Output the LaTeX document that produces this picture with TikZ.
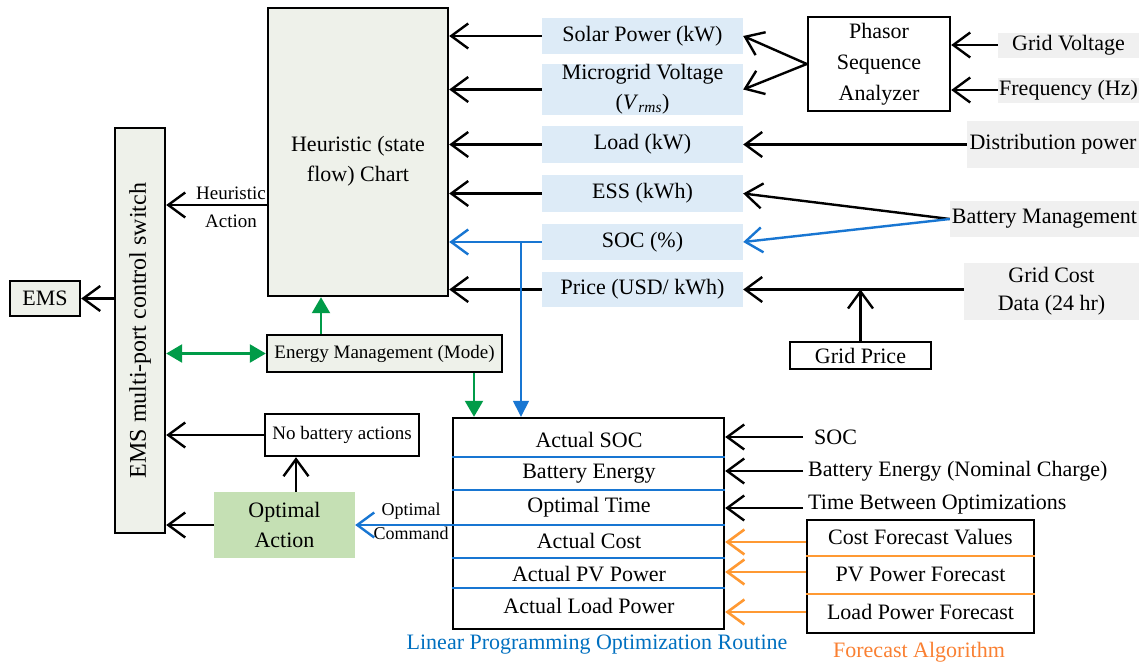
\documentclass[tikz,border=0pt]{standalone}
\usepackage{fontspec}
\setmainfont{Liberation Serif}
\usetikzlibrary{arrows.meta,calc}

\definecolor{panel}{RGB}{238,241,234}
\definecolor{inblue}{RGB}{221,235,247}
\definecolor{srcgrey}{RGB}{240,240,240}
\definecolor{optgreen}{RGB}{197,224,180}
\definecolor{lpblue}{RGB}{24,118,210}
\definecolor{lptext}{RGB}{0,112,192}
\definecolor{flowgreen}{RGB}{0,155,72}
\definecolor{fcorange}{RGB}{255,153,51}
\definecolor{fctext}{RGB}{250,128,50}

\newcommand{\pxfont}[2]{\fontsize{#1}{#2}\selectfont}

\begin{document}
\begin{tikzpicture}[x=1pt,y=-1pt,
  every node/.style={font=\pxfont{22}{30}, inner sep=0pt},
  frame/.style={draw=black, line width=2.4pt, fill=panel},
  blk/.style={draw=black, line width=2.4pt, fill=white},
  inbox/.style={fill=inblue, minimum width=201pt},
  src/.style={fill=srcgrey},
  arr/.style={line width=2.4pt, -{Straight Barb[length=17pt,width=25pt]}},
  arrblue/.style={arr, draw=lpblue},
  arrorange/.style={arr, draw=fcorange, line width=2.6pt},
  garr/.style={draw=flowgreen, line width=2.2pt, -{Triangle[length=16pt,width=18pt]}},
  garrboth/.style={draw=flowgreen, line width=2.6pt, {Triangle[length=16pt,width=18pt]}-{Triangle[length=16pt,width=18pt]}},
  barr/.style={draw=lpblue, line width=1.4pt, -{Triangle[length=16pt,width=16pt]}},
  sepblue/.style={draw=lpblue, line width=2.4pt},
  seporange/.style={draw=fcorange, line width=2.4pt}]

\fill[white] (0,0) rectangle (1142,667);
\useasboundingbox (0,0) rectangle (1142,667);

% main control blocks
\node[frame, minimum width=180pt, minimum height=288pt] (heu) at (358,152) {};
\node[align=center] (heutxt) at (358,161) {Heuristic (state\\flow) Chart};
\node[frame, minimum width=50pt, minimum height=405pt] (sw) at (140,330.5)
  {\rotatebox{90}{\pxfont{24}{28}EMS multi-port control switch}};
\node[frame, minimum width=70pt, minimum height=35pt] (ems) at (45,298.5) {EMS};

% measured inputs
\node[inbox, minimum height=36pt] (solar) at (642.5,36) {Solar Power (kW)};
\node[inbox, minimum height=51pt, align=center] (micro) at (642.5,89.5)
  {Microgrid Voltage\\(\textit{V}\textsubscript{\textit{rms}})};
\node[inbox, minimum height=37pt] (load) at (642.5,144.5) {Load (kW)};
\node[inbox, minimum height=37pt] (ess) at (642.5,193.5) {ESS (kWh)};
\node[inbox, minimum height=36pt] (soc) at (642.5,242) {SOC (\%)};
\node[inbox, minimum height=35pt] (price) at (642.5,289.5) {Price (USD/ kWh)};

% sources
\node[blk, minimum width=142pt, minimum height=94pt, align=center, font=\pxfont{22}{31}] (pha) at (879,64)
  {Phasor\\Sequence\\Analyzer};
\node[src, minimum width=141pt, minimum height=25pt] (gv) at (1068.5,45) {Grid Voltage};
\node[src, minimum width=141pt, minimum height=25pt] (freq) at (1068.5,90) {Frequency (Hz)};
\node[src, minimum width=172pt, minimum height=47pt] (dist) at (1053,144.5) {Distribution power};
\node[src, minimum width=189pt, minimum height=36pt] (bm) at (1044.5,219) {Battery Management};
\node[src, minimum width=175pt, minimum height=57pt, align=center, font=\pxfont{22}{28}] (gcd) at (1051.5,291.5)
  {Grid Cost\\Data (24 hr)};
\node[blk, minimum width=141pt, minimum height=27pt] (gp) at (860.5,355.5) {Grid Price};

% inputs into the heuristic chart
\draw[arr] (solar.west) -- (solar.west -| heu.east);
\draw[arr] (micro.west) -- (micro.west -| heu.east);
\draw[arr] (load.west) -- (load.west -| heu.east);
\draw[arr] (ess.west) -- (ess.west -| heu.east);
\draw[arrblue] (soc.west) -- (soc.west -| heu.east);
\draw[arr] (price.west) -- (price.west -| heu.east);

% sources into the inputs
\draw[arr] (pha.west) -- (solar.east);
\draw[arr] (pha.west) -- (micro.east);
\draw[arr] (gv.west) -- (gv.west -| pha.east);
\draw[arr] (freq.west) -- (freq.west -| pha.east);
\draw[arr] (dist.west) -- (load.east);
\draw[arr] (bm.west) -- (ess.east);
\draw[arrblue] (bm.west) -- (soc.east);
\draw[arr] (gcd.west |- price.east) -- (price.east);
\draw[arr] (gp.north) -- (gp.north |- price.east);

% heuristic action to the switch
\coordinate (ha) at (0,205);
\draw[arr] (heu.west |- ha) -- (sw.east |- ha);
\node[font=\pxfont{19}{28}, align=center] (halbl) at (231,207) {Heuristic\\Action};
\draw[arr] (sw.west |- ems.east) -- (ems.east);

% mode selection
\node[frame, minimum width=235pt, minimum height=37pt, font=\pxfont{19}{24}] (em) at (384.5,353.5)
  {Energy Management (Mode)};
\draw[garrboth] (sw.east |- em.west) -- (em.west);

% optimisation routine
\node[blk, minimum width=271pt, minimum height=211pt] (lp) at (588.5,523.5) {};
\foreach \yy in {457,490,525,558,588}
  \draw[sepblue] (lp.west |- 0,\yy) -- (lp.east |- 0,\yy);
\node (r1) at (589,440) {Actual SOC};
\node (r2) at (589,474) {Battery Energy};
\node (r3) at (589,507) {Optimal Time};
\node (r4) at (589,541) {Actual Cost};
\node (r5) at (589,574) {Actual PV Power};
\node (r6) at (589,606) {Actual Load Power};
\node[text=lptext] (lplbl) at (597,645) {Linear Programming Optimization Routine};

\coordinate (gx1) at (321,0);
\draw[garr] (em.north -| gx1) -- (heu.south -| gx1);
\coordinate (gx2) at (474,0);
\draw[garr] (em.south -| gx2) -- (lp.north -| gx2);
\coordinate (bx) at (521,0);
\draw[barr] (soc.west -| bx) -- (lp.north -| bx);

% actions
\node[blk, minimum width=154pt, minimum height=42pt, font=\pxfont{19}{24}] (nb) at (342,435) {No battery actions};
\draw[arr] (nb.west) -- (sw.east |- nb.west);
\node[fill=optgreen, minimum width=141pt, minimum height=66pt, align=center] (oa) at (284.5,525) {Optimal\\Action};
\draw[arr] (oa.west) -- (sw.east |- oa.west);
\coordinate (ox) at (296,0);
\draw[arr] (oa.north -| ox) -- (nb.south -| ox);
\draw[arrblue] (lp.west |- oa.east) -- (oa.east);
\node[font=\pxfont{18}{24}, align=center] (oclbl) at (411,521) {Optimal\\Command};

% parameters of the optimisation
\node[anchor=west] (isoc) at (814,437) {SOC};
\draw[arr] ([xshift=-11pt]isoc.west) -- (lp.east |- isoc.west);
\node[anchor=west] (ibe) at (808,471) {Battery Energy (Nominal Charge)};
\draw[arr] ([xshift=-5pt]ibe.west) -- (lp.east |- ibe.west);
\node[anchor=west] (itb) at (808,505) {Time Between Optimizations};
\draw[arr] ([xshift=-5pt,yshift=-3pt]itb.west) -- ([yshift=-3pt]lp.east |- itb.west);

% forecasts
\node[blk, minimum width=227pt, minimum height=113pt] (fc) at (920.5,576.5) {};
\draw[seporange] (fc.west |- 0,556) -- (fc.east |- 0,556);
\draw[seporange] (fc.west |- 0,594) -- (fc.east |- 0,594);
\node (f1) at (920.5,537) {Cost Forecast Values};
\node (f2) at (920.5,574) {PV Power Forecast};
\node (f3) at (920.5,612) {Load Power Forecast};
\draw[arrorange] ([yshift=-5pt]fc.west |- f1) -- ([yshift=-5pt]lp.east |- f1);
\draw[arrorange] ([yshift=2pt]fc.west |- f2) -- ([yshift=2pt]lp.east |- f2);
\draw[arrorange] (fc.west |- f3) -- (lp.east |- f3);
\node[text=fctext] (fclbl) at (919,652) {Forecast Algorithm};

\end{tikzpicture}
\end{document}
